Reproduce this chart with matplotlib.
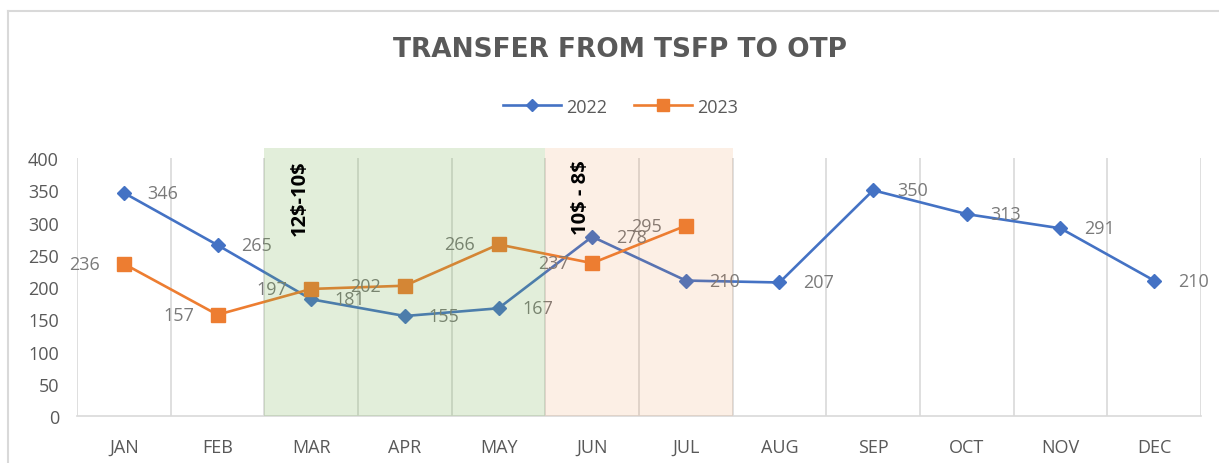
import numpy as np
import matplotlib
matplotlib.use('Agg')
import matplotlib.pyplot as plt
from matplotlib.patches import Rectangle
from matplotlib.lines import Line2D

months = ['JAN', 'FEB', 'MAR', 'APR', 'MAY', 'JUN', 'JUL',
          'AUG', 'SEP', 'OCT', 'NOV', 'DEC']
y2022 = [346, 265, 181, 155, 167, 278, 210, 207, 350, 313, 291, 210]
y2023 = [236, 157, 197, 202, 266, 237, 295]

# price bands: (first month index, last month index, label)
bands = [(2, 4, '12$-10$'), (5, 6, '10$ - 8$')]

blue = '#4472C4'
orange = '#ED7D31'
gray = '#595959'
label_gray = '#7a7a7a'

plt.rcParams['font.family'] = ['Open Sans', 'DejaVu Sans']

fig = plt.figure(figsize=(12.19, 4.64), dpi=100)
ax = fig.add_axes([0.0632, 0.1013, 0.9220, 0.5560])

x22 = np.arange(len(y2022))
x23 = np.arange(len(y2023))

ax.plot(x22, y2022, color=blue, lw=1.9, marker='D', markersize=7.5, zorder=3)
ax.plot(x23, y2023, color=orange, lw=1.9, marker='s', markersize=10, zorder=3)

for x, v in zip(x22, y2022):
    ax.annotate(str(v), (x, v), xytext=(17, 0), textcoords='offset points',
                ha='left', va='center', fontsize=13, color=label_gray, zorder=4)
for x, v in zip(x23, y2023):
    ax.annotate(str(v), (x, v), xytext=(-17, 0), textcoords='offset points',
                ha='right', va='center', fontsize=13, color=label_gray, zorder=4)

# shaded bands drawn over the lines, semi transparent
band_colors = ['#70AD47', '#ED7D31']
band_alpha = [0.2, 0.12]
for (a, b, txt), c, al in zip(bands, band_colors, band_alpha):
    ax.add_patch(Rectangle((a - 0.5, 0), b - a + 1, 416, facecolor=c,
                           alpha=al, edgecolor='none', clip_on=False, zorder=5))
    ax.text(a - 0.12, 398, txt, rotation=90, ha='center', va='top',
            fontsize=14.5, fontweight='bold', color='black', zorder=6,
            parse_math=False)

ax.set_xlim(-0.5, len(months) - 0.5)
ax.set_ylim(0, 400)
ax.set_yticks(np.arange(0, 401, 50))
ax.set_xticks(x22)
ax.set_xticklabels(months)
ax.tick_params(axis='both', length=0, labelsize=13, colors=gray)
ax.tick_params(axis='x', pad=16)
ax.tick_params(axis='y', pad=13)

for xb in np.arange(-0.5, len(months), 1.0):
    ax.axvline(xb, color='#d9d9d9', lw=1.2, zorder=1)

for s in ['top', 'right', 'left']:
    ax.spines[s].set_visible(False)
ax.spines['bottom'].set_color('#d9d9d9')
ax.spines['bottom'].set_linewidth(1.2)

fig.text(0.509, 0.892, 'TRANSFER FROM TSFP TO OTP', ha='center', va='center',
         fontsize=19, fontweight='bold', color=gray, family='DejaVu Sans')

handles = [Line2D([], [], color=blue, lw=1.9, marker='D', markersize=6),
           Line2D([], [], color=orange, lw=1.9, marker='s', markersize=8)]
fig.legend(handles, ['2022', '2023'], loc='center', bbox_to_anchor=(0.509, 0.768),
           ncol=2, frameon=False, fontsize=13, labelcolor=gray,
           handlelength=3.2, columnspacing=1.5, handletextpad=0.3)

# chart frame (top and left edges visible)
fig.add_artist(Line2D([8 / 1219, 8 / 1219], [0, 1 - 12 / 464],
                      color='#d9d9d9', lw=1.5, transform=fig.transFigure))
fig.add_artist(Line2D([8 / 1219, 1], [1 - 12 / 464, 1 - 12 / 464],
                      color='#d9d9d9', lw=1.5, transform=fig.transFigure))

fig.savefig('out.png', dpi=100)
plt.close()
